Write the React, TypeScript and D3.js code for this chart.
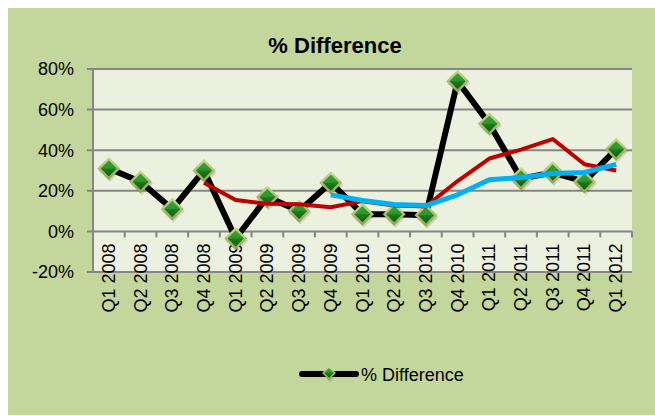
import React from "react";
import * as d3 from "d3";

// Quarterly categories along the x axis
const quarters = [
  "Q1 2008", "Q2 2008", "Q3 2008", "Q4 2008",
  "Q1 2009", "Q2 2009", "Q3 2009", "Q4 2009",
  "Q1 2010", "Q2 2010", "Q3 2010", "Q4 2010",
  "Q1 2011", "Q2 2011", "Q3 2011", "Q4 2011",
  "Q1 2012",
];

// % Difference per quarter (fractions)
const pctDifference = [
  0.31, 0.245, 0.11, 0.30, -0.035, 0.17, 0.10, 0.24,
  0.085, 0.085, 0.08, 0.74, 0.53, 0.26, 0.29, 0.245, 0.405,
];

// 4-quarter trend line (starts at Q4 2008)
const trend4 = [
  null, null, null, 0.24, 0.155, 0.136, 0.134, 0.119,
  0.149, 0.128, 0.123, 0.248, 0.359, 0.403, 0.455, 0.331, 0.30,
];

// 8-quarter trend line (starts at Q4 2009)
const trend8 = [
  null, null, null, null, null, null, null, 0.18,
  0.152, 0.132, 0.127, 0.18, 0.255, 0.265, 0.285, 0.29, 0.33,
];

const yTicks = [-0.2, 0, 0.2, 0.4, 0.6, 0.8];

const FONT = "'Liberation Sans', Arial, sans-serif";

const pct = (t: number) => d3.format(".0%")(t).replace("\u2212", "-");

export default function App() {
  const W = 655;
  const H = 416;
  const plot = { left: 93, right: 632, top: 69, bottom: 272 };

  const x = d3
    .scaleBand<string>()
    .domain(quarters)
    .range([plot.left, plot.right])
    .padding(0);
  const y = d3.scaleLinear().domain([-0.2, 0.8]).range([plot.bottom, plot.top]);
  const cx = (q: string) => (x(q) as number) + x.bandwidth() / 2;

  const line = d3
    .line<[string, number | null]>()
    .defined((d) => d[1] !== null)
    .x((d) => cx(d[0]))
    .y((d) => y(d[1] as number));

  const mainPath = line(quarters.map((q, i) => [q, pctDifference[i]]));
  const trend4Path = line(quarters.map((q, i) => [q, trend4[i]]));
  const trend8Path = line(quarters.map((q, i) => [q, trend8[i]]));

  const diamond = (px: number, py: number, r: number) =>
    `M${px},${py - r}L${px + r},${py}L${px},${py + r}L${px - r},${py}Z`;

  const Marker = ({ px, py, s = 1 }: { px: number; py: number; s?: number }) => (
    <g>
      <path d={diamond(px + 1, py + 2, 11.5 * s)} fill="#000" opacity={0.12} />
      <path d={diamond(px, py, 11.5 * s)} fill="url(#rim)" />
      <path d={diamond(px, py, 8 * s)} fill="url(#gem)" />
      <path
        d={`M${px - 8 * s},${py}L${px},${py - 8 * s}L${px + 8 * s},${py}Z`}
        fill="#3aa83a"
        opacity={0.55}
      />
    </g>
  );

  const zeroY = y(0);

  return (
    <svg
      width={W}
      height={H}
      style={{ position: "absolute", left: 0, top: 0 }}
      fontFamily={FONT}
    >
      <defs>
        <linearGradient id="rim" x1="0" y1="0" x2="0" y2="1">
          <stop offset="0" stopColor="#c9d98f" />
          <stop offset="1" stopColor="#8ea24e" />
        </linearGradient>
        <linearGradient id="gem" x1="0" y1="0" x2="0" y2="1">
          <stop offset="0" stopColor="#2f9d2f" />
          <stop offset="1" stopColor="#0b5f0b" />
        </linearGradient>
      </defs>

      {/* chart background */}
      <rect x={8} y={8} width={W - 8} height={H - 9} fill="#c3d69b" />
      {/* plot area */}
      <rect
        x={plot.left}
        y={plot.top}
        width={plot.right - plot.left}
        height={plot.bottom - plot.top}
        fill="#ebf1de"
      />

      {/* gridlines */}
      {yTicks.map((t) => (
        <line
          key={t}
          x1={plot.left - 6}
          x2={plot.right}
          y1={y(t)}
          y2={y(t)}
          stroke="#868686"
          strokeWidth={2}
        />
      ))}
      {/* value axis */}
      <line
        x1={plot.left}
        x2={plot.left}
        y1={plot.top}
        y2={plot.bottom}
        stroke="#868686"
        strokeWidth={2}
      />
      {/* category tick marks on the zero line */}
      {quarters.map((q) => (
        <line
          key={q}
          x1={(x(q) as number) + x.bandwidth()}
          x2={(x(q) as number) + x.bandwidth()}
          y1={zeroY}
          y2={zeroY + 6}
          stroke="#868686"
          strokeWidth={2}
        />
      ))}

      {/* value labels */}
      {yTicks.map((t) => (
        <text
          key={t}
          x={74}
          y={y(t)}
          dy="0.36em"
          textAnchor="end"
          fontSize={18}
          fill="#000"
        >
          {pct(t)}
        </text>
      ))}

      {/* category labels */}
      {quarters.map((q) => (
        <text
          key={q}
          transform={`translate(${cx(q) + 6},${zeroY + 12}) rotate(-90)`}
          textAnchor="end"
          fontSize={18}
          fill="#000"
        >
          {q}
        </text>
      ))}

      {/* title */}
      <text
        x={335}
        y={53}
        textAnchor="middle"
        fontSize={22}
        fontWeight="bold"
        fill="#000"
      >
        % Difference
      </text>

      {/* main series */}
      <path
        d={mainPath ?? ""}
        fill="none"
        stroke="#000"
        strokeWidth={6}
        strokeLinejoin="round"
      />
      {quarters.map((q, i) => (
        <Marker key={q} px={cx(q)} py={y(pctDifference[i])} />
      ))}

      {/* trend lines */}
      <path
        d={trend4Path ?? ""}
        fill="none"
        stroke="#c00000"
        strokeWidth={4}
        strokeLinejoin="round"
      />
      <path
        d={trend8Path ?? ""}
        fill="none"
        stroke="#00b0f0"
        strokeWidth={5}
        strokeLinejoin="round"
      />

      {/* legend */}
      <line
        x1={302}
        x2={356}
        y1={374}
        y2={374}
        stroke="#000"
        strokeWidth={6}
        strokeLinecap="round"
      />
      <Marker px={329} py={373} s={0.6} />
      <text x={361} y={381} fontSize={18} fill="#000">
        % Difference
      </text>
    </svg>
  );
}
